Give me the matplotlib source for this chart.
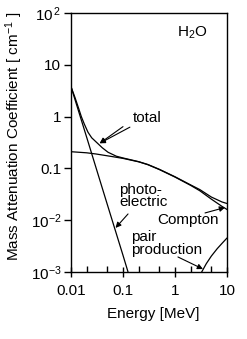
import matplotlib
matplotlib.use('Agg')
from matplotlib import pyplot as plt

plt.rcParams['font.family'] = ['Liberation Sans', 'DejaVu Sans']
plt.rcParams['mathtext.fontset'] = 'custom'
plt.rcParams['mathtext.rm'] = 'Liberation Sans'
plt.rcParams['mathtext.it'] = 'Liberation Sans:italic'
plt.rcParams['font.size'] = 11

# curves (energy in MeV, coefficient)
E_total  = [0.01, 0.012, 0.014, 0.0158, 0.018, 0.0212, 0.025, 0.033, 0.04,
            0.0515, 0.0743, 0.1, 0.2, 0.3, 0.5, 1, 2, 3, 5, 8, 10]
mu_total = [3.78, 2.3, 1.45, 1.0, 0.72, 0.5, 0.39, 0.3, 0.25,
            0.205, 0.172, 0.159, 0.135, 0.119, 0.096, 0.069, 0.048, 0.039,
            0.028, 0.0225, 0.021]

E_compton  = [0.01, 0.02, 0.03, 0.06, 0.1, 0.2, 0.3, 0.5, 1, 2, 3, 5, 8, 10]
mu_compton = [0.21, 0.2, 0.19, 0.17, 0.156, 0.134, 0.118, 0.095, 0.068,
              0.047, 0.037, 0.0255, 0.0185, 0.0161]

E_photo  = [0.01, 0.02, 0.05, 0.1, 0.125]
mu_photo = [3.78, 0.4, 0.02, 0.0021, 0.001]

E_pair  = [3.26, 4, 5, 6.5, 8, 9.9]
mu_pair = [0.001, 0.00145, 0.00203, 0.00283, 0.00356, 0.00448]

y_ticks = [1e2, 10, 1, 0.1, 1e-2, 1e-3]
y_ticks_text = [r'$10^{\,2}$', '10', '1', '0.1', r'$10^{-2}$', r'$10^{-3}$']
x_ticks = [0.01, 0.1, 1, 10]
x_ticks_text = ['0.01', '0.1', '1', '10']

fig = plt.figure(figsize=(2.47, 3.39), dpi=100)
ax = fig.add_axes([71/247, 1-272/339, 156/247, 259/339])

lw = 0.9
ax.loglog(E_total, mu_total, 'k', lw=lw)
ax.loglog(E_compton, mu_compton, 'k', lw=lw)
ax.loglog(E_photo, mu_photo, 'k', lw=lw)
ax.loglog(E_pair, mu_pair, 'k', lw=lw)

ax.set_xlim(0.01, 10)
ax.set_ylim(1e-3, 1e2)

ax.set_xticks(x_ticks, x_ticks_text)
ax.set_yticks(y_ticks, y_ticks_text)
ax.xaxis.set_minor_locator(matplotlib.ticker.FixedLocator([0.02, 0.05, 0.2, 0.5, 2, 5]))
ax.xaxis.set_minor_formatter(matplotlib.ticker.NullFormatter())
ax.yaxis.set_minor_locator(matplotlib.ticker.NullLocator())
ax.tick_params(axis='x', which='major', direction='inout', length=7, width=1, pad=5)
ax.tick_params(axis='x', which='minor', direction='in', length=4, width=1)
ax.tick_params(axis='y', which='major', direction='out', length=5, width=1, pad=2)
for s in ax.spines.values():
    s.set_linewidth(1)

ax.set_xlabel('Energy [MeV]')
ax.set_ylabel(r'Mass Attenuation Coefficient [ cm$^{-1}$ ]', fontsize=11)
ax.xaxis.set_label_coords(0.53, -0.135)
ax.yaxis.set_label_coords(-0.295, 0.525)

ax.text(2.12, 41, r'H$_2$O', ha='center', va='center')

arrow = dict(arrowstyle='-|>', lw=0.8, color='k', mutation_scale=8, shrinkA=0, shrinkB=0)
ax.annotate('total', xy=(0.0356, 0.305), xytext=(0.29, 0.94),
            ha='center', va='center', arrowprops=arrow)
ax.annotate('', xy=(0.0356, 0.305), xytext=(0.1, 0.64), arrowprops=arrow)

ax.text(0.0838, 0.0293, 'photo-\nelectric', ha='left', va='center', linespacing=0.9)
ax.annotate('', xy=(0.0718, 0.0071), xytext=(0.125, 0.0132), arrowprops=arrow)

ax.text(1.74, 0.0101, 'Compton', ha='center', va='center')
ax.annotate('', xy=(9.16, 0.0176), xytext=(3.78, 0.0138), arrowprops=arrow)

ax.text(0.1426, 0.00348, 'pair\nproduction', ha='left', va='center', linespacing=0.9)
ax.annotate('', xy=(3.45, 0.00114), xytext=(1.14, 0.00195), arrowprops=arrow)

plt.savefig('out.png', dpi=100)
